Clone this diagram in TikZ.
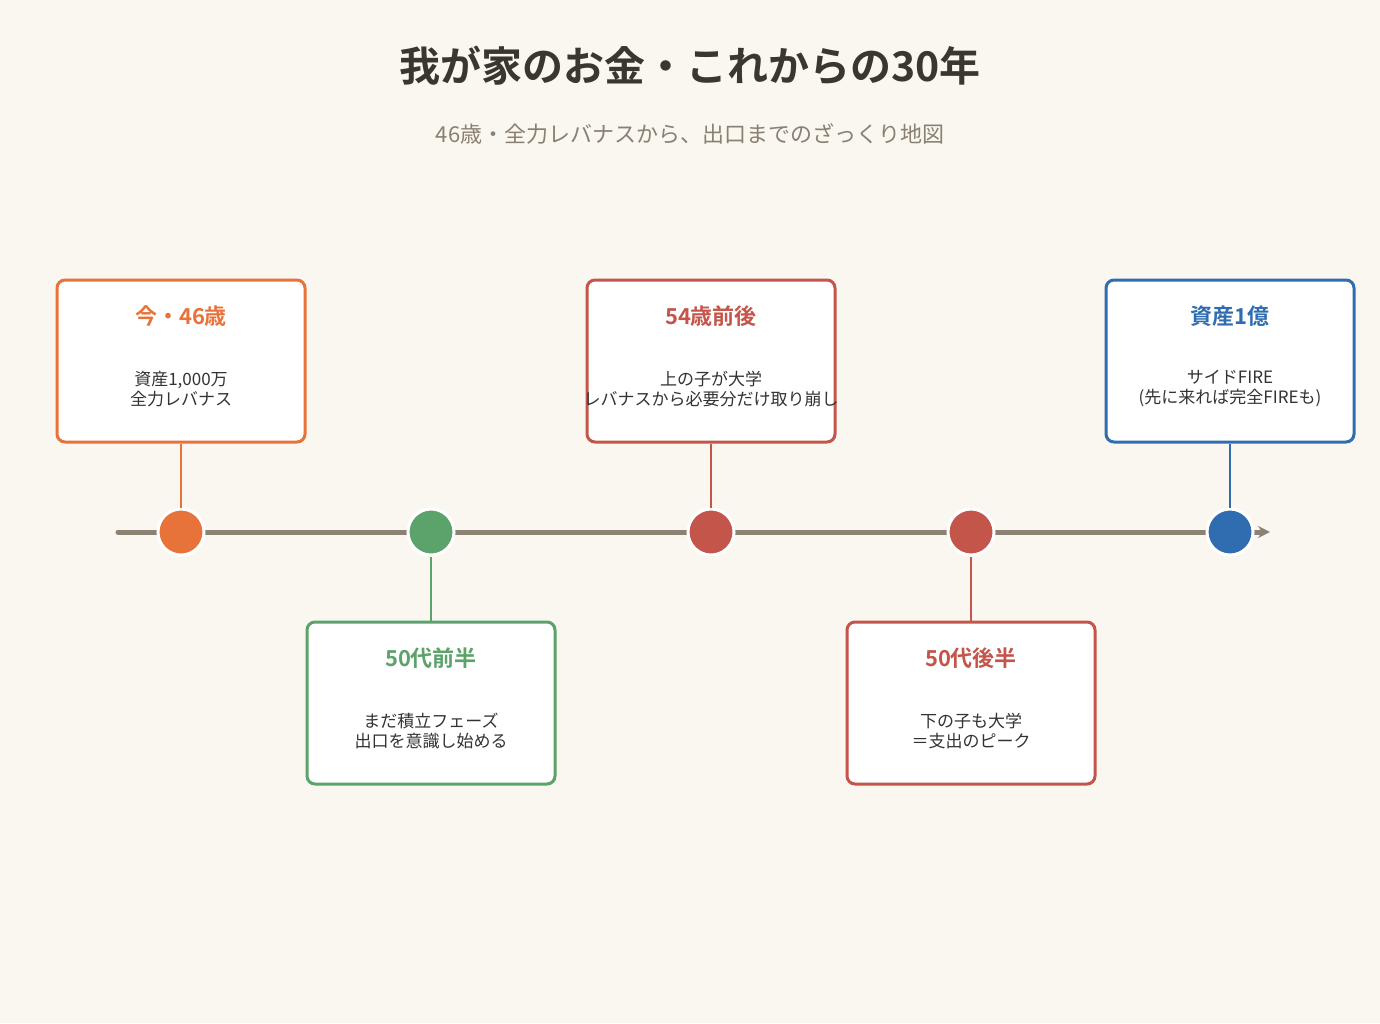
\documentclass[tikz,border=0pt]{standalone}
\usepackage{fontspec}
\setmainfont{Noto Sans CJK JP}[BoldFont={Noto Sans CJK JP Bold}]
\usetikzlibrary{arrows.meta}
\definecolor{bg}{HTML}{FAF6F0}
\definecolor{cO}{HTML}{E8733A}
\definecolor{cG}{HTML}{5BA36A}
\definecolor{cR}{HTML}{C4554A}
\definecolor{cB}{HTML}{2F6DB0}
\definecolor{ln}{HTML}{8C8274}
\definecolor{ttl}{HTML}{3A3630}
\definecolor{sub}{HTML}{8A8072}
\definecolor{txt}{HTML}{333333}
\begin{document}
\begin{tikzpicture}[x=0.5pt,y=-0.5pt,
  box/.style={draw=#1,fill=white,line width=1.5pt,rounded corners=4pt,minimum width=124pt,minimum height=81pt,inner sep=0pt},
  dot/.style={circle,fill=#1,draw=white,line width=1.5pt,minimum size=23pt,inner sep=0pt},
  hd/.style={font=\bfseries\fontsize{11}{13}\selectfont,text=#1},
  bd/.style={font=\fontsize{8.5}{10}\selectfont,text=txt,align=center},
  stem/.style={draw=#1,line width=1.2pt}]
\fill[bg] (0,0) rectangle (1380,1023);
\useasboundingbox (0,0) rectangle (1380,1023);
\node[font=\bfseries\fontsize{20.5}{24}\selectfont,text=ttl] (title) at (690,66) {我が家のお金・これからの30年};
\node[font=\fontsize{11}{13}\selectfont,text=sub] (subt) at (690,134) {46歳・全力レバナスから、出口までのざっくり地図};
\coordinate (ls) at (118,532); \coordinate (le) at (1270,532);
\draw[ln,line width=2.5pt,line cap=round,-{Stealth[length=6pt,width=6pt]}] (ls) -- (le);
% boxes
\node[box=cO] (b1) at (181,361) {};
\node[box=cG] (b2) at (431,703) {};
\node[box=cR] (b3) at (711,361) {};
\node[box=cR] (b4) at (971,703) {};
\node[box=cB] (b5) at (1230,361) {};
\foreach \n/\c/\x in {d1/cO/181,d2/cG/431,d3/cR/711,d4/cR/971,d5/cB/1230}
  \node[dot=\c] (\n) at (\x,532) {};
\draw[stem=cO] (b1.south) -- (d1.north);
\draw[stem=cG] (b2.north) -- (d2.south);
\draw[stem=cR] (b3.south) -- (d3.north);
\draw[stem=cR] (b4.north) -- (d4.south);
\draw[stem=cB] (b5.south) -- (d5.north);
% texts
\node[hd=cO] (h1) at (181,316) {今・46歳};
\node[bd] (t1) at (181,389) {資産1,000万\\全力レバナス};
\node[hd=cG] (h2) at (431,658) {50代前半};
\node[bd] (t2) at (431,731) {まだ積立フェーズ\\出口を意識し始める};
\node[hd=cR] (h3) at (711,316) {54歳前後};
\node[bd] (t3) at (711,389) {上の子が大学\\レバナスから必要分だけ取り崩し};
\node[hd=cR] (h4) at (971,658) {50代後半};
\node[bd] (t4) at (971,731) {下の子も大学\\＝支出のピーク};
\node[hd=cB] (h5) at (1230,316) {資産1億};
\node[bd] (t5) at (1230,389) {サイドFIRE\\(先に来れば完全FIREも)};
\end{tikzpicture}
\end{document}
